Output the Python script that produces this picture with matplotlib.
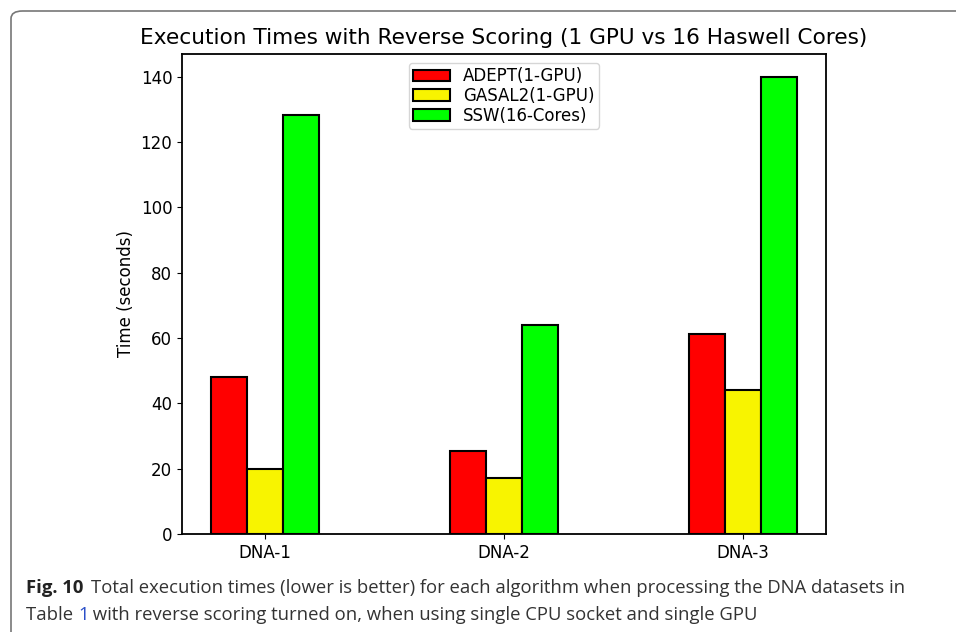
import numpy as np
import matplotlib.pyplot as plt
from matplotlib.patches import FancyBboxPatch

plt.rcParams["font.family"] = ["DejaVu Sans"]

datasets = ["DNA-1", "DNA-2", "DNA-3"]
labels = ["ADEPT(1-GPU)", "GASAL2(1-GPU)", "SSW(16-Cores)"]
adept = [48.1, 25.4, 61.3]
gasal2 = [19.8, 17.3, 44.1]
ssw = [128.4, 64.0, 140.0]
colors = ["#ff0000", "#f8f400", "#00ff00"]

fig = plt.figure(figsize=(9.56, 6.32), dpi=100)
ax = fig.add_axes([182/956, 1-534/632, (826-182)/956, (534-54)/632])

x = np.arange(len(datasets))
w = 0.15
for i, (vals, lab, c) in enumerate(zip([adept, gasal2, ssw], labels, colors)):
    ax.bar(x + (i - 1) * w, vals, w, color=c, edgecolor="black", linewidth=1.5, label=lab)

ax.set_xticks(x)
ax.set_xticklabels(datasets, fontsize=12)
ax.tick_params(axis="y", labelsize=12)
ax.set_ylim(0, 147)
ax.set_yticks(range(0, 141, 20))
ax.set_ylabel("Time (seconds)", fontsize=12)
ax.set_title("Execution Times with Reverse Scoring (1 GPU vs 16 Haswell Cores)", fontsize=15.6, pad=7)
for s in ax.spines.values():
    s.set_linewidth(1.3)
ax.legend(loc="upper center", fontsize=12, handlelength=2.2, borderpad=0.25,
          labelspacing=0.1, borderaxespad=0, bbox_to_anchor=(0.5, 0.981))

# frame around figure + caption
frame = FancyBboxPatch((11/956, -0.2), 1.2, 1 - 11/632 + 0.2,
                       boxstyle="round,pad=0,rounding_size=0.012",
                       transform=fig.transFigure, facecolor="none",
                       edgecolor="#777777", linewidth=1.2, clip_on=False)
fig.patches.append(frame)

cap_font = ["Open Sans", "DejaVu Sans"]
cap_size = 13.3
t1 = fig.text(26/956, 1-593/632, "Fig. 10", fontsize=cap_size, fontweight="bold",
              family=cap_font, color="#222222", va="baseline")
fig.canvas.draw()
bb = t1.get_window_extent()
fig.text((bb.x1 + 8)/956, 1-593/632,
         "Total execution times (lower is better) for each algorithm when processing the DNA datasets in",
         fontsize=cap_size, family=cap_font, color="#333333", va="baseline")
t2 = fig.text(26/956, 1-620/632, "Table ", fontsize=cap_size, family=cap_font,
              color="#333333", va="baseline")
fig.canvas.draw()
bb2 = t2.get_window_extent()
t3 = fig.text(bb2.x1/956, 1-620/632, "1", fontsize=cap_size, family=cap_font,
              color="#2b4fc8", va="baseline")
fig.canvas.draw()
bb3 = t3.get_window_extent()
fig.text(bb3.x1/956, 1-620/632,
         " with reverse scoring turned on, when using single CPU socket and single GPU",
         fontsize=cap_size, family=cap_font, color="#333333", va="baseline")

fig.savefig("out.png", dpi=100)
